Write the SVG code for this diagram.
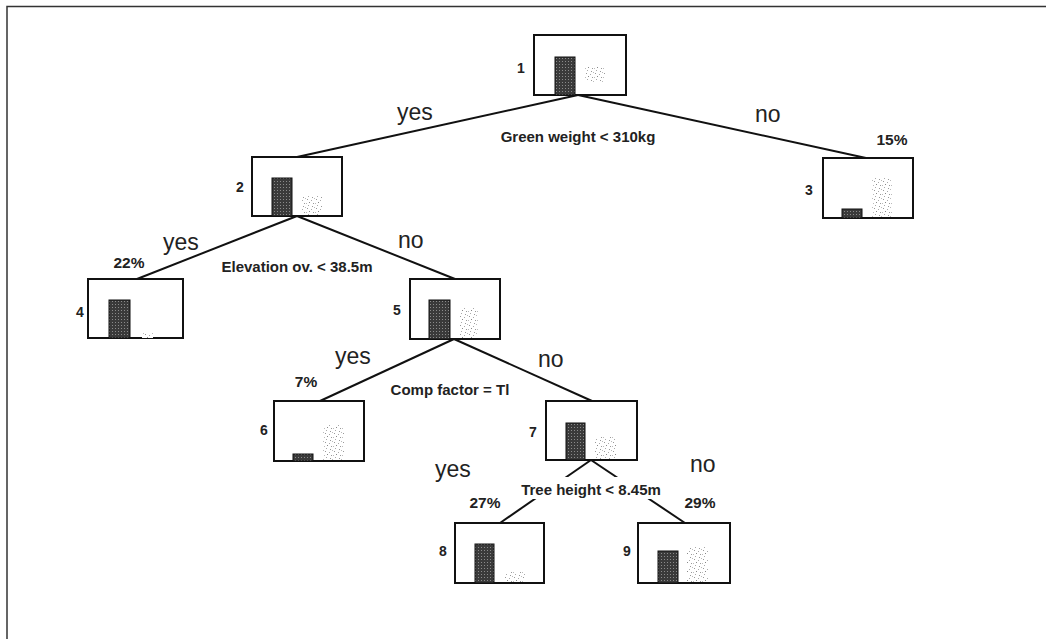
<svg xmlns="http://www.w3.org/2000/svg" width="1046" height="639" viewBox="0 0 1046 639">
<style>
.box{fill:#fff;stroke:#111;stroke-width:2}
.dark{fill:url(#darkPat);stroke:#111;stroke-width:1}
.light{fill:url(#lightPat)}
.edge{stroke:#111;stroke-width:2;fill:none}
.yn{font-family:"Liberation Sans",Arial,sans-serif;font-size:23px;fill:#222}
.cond{font-family:"Liberation Sans",Arial,sans-serif;font-size:15px;font-weight:bold;fill:#222;text-anchor:middle}
.pct{font-family:"Liberation Sans",Arial,sans-serif;font-size:15.5px;font-weight:bold;fill:#222;text-anchor:middle}
.num{font-family:"Liberation Sans",Arial,sans-serif;font-size:14px;font-weight:bold;fill:#222;text-anchor:middle}
</style>
<defs>
<pattern id="darkPat" width="3" height="3" patternUnits="userSpaceOnUse">
<rect width="3" height="3" fill="#3a3a3a"/>
<rect x="1" y="1" width="1" height="1" fill="#8a8a8a"/>
</pattern>
<pattern id="lightPat" width="9" height="9" patternUnits="userSpaceOnUse">
<rect width="9" height="9" fill="#fff"/>
<rect x="1" y="1" width="1" height="1" fill="#999"/>
<rect x="5" y="2" width="1" height="1" fill="#aaa"/>
<rect x="3" y="4" width="1" height="1" fill="#888"/>
<rect x="7" y="5" width="1" height="1" fill="#999"/>
<rect x="2" y="7" width="1" height="1" fill="#aaa"/>
<rect x="6" y="8" width="1" height="1" fill="#999"/>
<rect x="0" y="5" width="1" height="1" fill="#bbb"/>
<rect x="8" y="0" width="1" height="1" fill="#bbb"/>
</pattern>
</defs>
<path d="M7,639 V6.5 H1046" fill="none" stroke="#333" stroke-width="1.5"/>
<g id="connectors">
<line class="edge" x1="578" y1="95" x2="297" y2="157"/>
<line class="edge" x1="578" y1="95" x2="866" y2="158"/>
<line class="edge" x1="297" y1="216" x2="137" y2="279"/>
<line class="edge" x1="297" y1="216" x2="455" y2="279"/>
<line class="edge" x1="454" y1="339" x2="320" y2="401"/>
<line class="edge" x1="454" y1="339" x2="592" y2="401"/>
<line class="edge" x1="591" y1="460" x2="500" y2="523"/>
<line class="edge" x1="591" y1="460" x2="685" y2="523"/>
</g>
<g id="labels">
<text class="yn" x="397" y="120">yes</text>
<text class="yn" x="755" y="122">no</text>
<text class="cond" x="578" y="142">Green weight &lt; 310kg</text>
<text class="pct" x="892" y="145">15%</text>
<text class="yn" x="163" y="250">yes</text>
<text class="yn" x="398" y="248">no</text>
<text class="pct" x="129" y="268">22%</text>
<text class="cond" x="297" y="272">Elevation ov. &lt; 38.5m</text>
<text class="yn" x="335" y="364">yes</text>
<text class="yn" x="538" y="367">no</text>
<text class="pct" x="306" y="387">7%</text>
<text class="cond" x="450" y="395">Comp factor = Tl</text>
<text class="yn" x="435" y="477">yes</text>
<text class="yn" x="690" y="472">no</text>
<rect x="517" y="477" width="148" height="22" fill="#fff"/>
<text class="cond" x="591" y="495">Tree height &lt; 8.45m</text>
<text class="pct" x="485" y="508">27%</text>
<text class="pct" x="700" y="508">29%</text>
</g>
<g id="node1">
<rect class="box" x="534" y="35" width="92" height="60"/>
<rect class="dark" x="555" y="57" width="20" height="38"/>
<rect class="light" x="585" y="66" width="20" height="16"/>
<text class="num" x="521" y="73">1</text>
</g>
<g id="node2">
<rect class="box" x="252" y="157" width="90" height="59"/>
<rect class="dark" x="272" y="178" width="20" height="38"/>
<rect class="light" x="302" y="195" width="20" height="20"/>
<text class="num" x="240" y="192">2</text>
</g>
<g id="node3">
<rect class="box" x="823" y="158" width="90" height="60"/>
<rect class="dark" x="842" y="209" width="20" height="9"/>
<rect class="light" x="872" y="178" width="20" height="39"/>
<text class="num" x="809" y="195">3</text>
</g>
<g id="node4">
<rect class="box" x="88" y="279" width="95" height="59"/>
<rect class="dark" x="109" y="300" width="21" height="38"/>
<rect class="light" x="142" y="333" width="11" height="5"/>
<text class="num" x="80" y="317">4</text>
</g>
<g id="node5">
<rect class="box" x="410" y="279" width="90" height="60"/>
<rect class="dark" x="429" y="300" width="21" height="39"/>
<rect class="light" x="460" y="308" width="18" height="30"/>
<text class="num" x="397" y="315">5</text>
</g>
<g id="node6">
<rect class="box" x="274" y="401" width="90" height="60"/>
<rect class="dark" x="293" y="454" width="20" height="7"/>
<rect class="light" x="323" y="425" width="21" height="35"/>
<text class="num" x="264" y="435">6</text>
</g>
<g id="node7">
<rect class="box" x="546" y="401" width="91" height="59"/>
<rect class="dark" x="566" y="423" width="19" height="37"/>
<rect class="light" x="595" y="437" width="22" height="22"/>
<text class="num" x="533" y="437">7</text>
</g>
<g id="node8">
<rect class="box" x="455" y="523" width="89" height="60"/>
<rect class="dark" x="475" y="544" width="19" height="39"/>
<rect class="light" x="505" y="572" width="20" height="10"/>
<text class="num" x="443" y="556">8</text>
</g>
<g id="node9">
<rect class="box" x="638" y="523" width="92" height="60"/>
<rect class="dark" x="658" y="551" width="20" height="32"/>
<rect class="light" x="687" y="547" width="21" height="35"/>
<text class="num" x="627" y="556">9</text>
</g>
</svg>
